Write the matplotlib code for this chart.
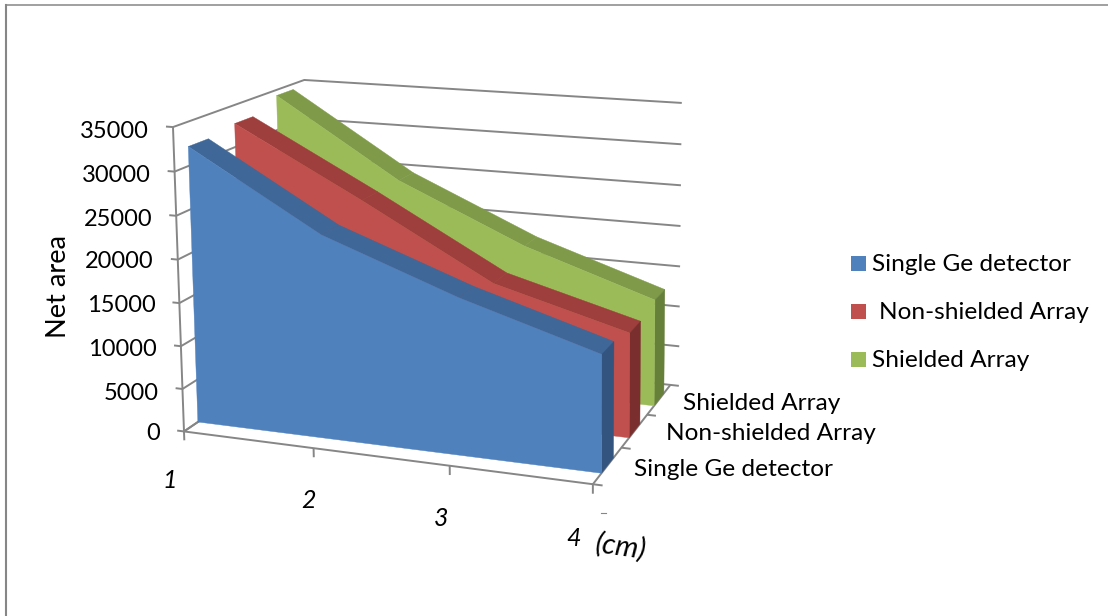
"""3D area chart of net area against distance for three detector setups."""
import matplotlib
matplotlib.use('Agg')
import matplotlib.pyplot as plt
import numpy as np

plt.rcParams['font.family'] = ['Lato', 'DejaVu Sans']

categories = ['1', '2', '3', '4']
series_names = ['Single Ge detector', 'Non-shielded Array', 'Shielded Array']
single_ge = [32200, 23400, 17800, 13150]
non_shielded = [32800, 24800, 16400, 12200]
shielded = [34300, 24800, 18000, 12900]
y_ticks = [0, 5000, 10000, 15000, 20000, 25000, 30000, 35000]

Y_MAX = 35000
COLORS = ['#4F81BD', '#C0504D', '#9BBB59']
TOPS = ['#3F6797', '#9E3F3D', '#7F9A48']
SIDES = ['#32547F', '#7A2F2E', '#66803A']
GRID = '#868686'
DEPTH_CENTER = [1/6, 1/2, 5/6]
DEPTH_HALF = 0.07


def fit_camera():
    # (u, v, w) box coords -> pixel anchors, solved as a projective camera
    anchors = [((0, 0, 0), (184, 432)), ((1/3, 0, 0), (313, 448)), ((2/3, 0, 0), (449, 466)),
               ((1, 0, 0), (593, 484)), ((1, 1/3, 0), (623, 446)), ((1, 2/3, 0), (648, 415)),
               ((1, 1, 0), (670, 385)), ((0, 0, 1), (173, 127)), ((0, 1, 1), (305, 79)),
               ((1, 1, 1), (673, 101))]
    for i, y in enumerate([388, 346, 303, 260, 216, 173]):
        anchors.append(((0, 0, (i + 1) / 7), (184 - 11 * (i + 1) / 7, y)))
    for i, y in enumerate([346, 306, 266, 226, 185, 144]):
        anchors.append(((1, 1, (i + 1) / 7), (670 + 3 * (i + 1) / 7, y)))
    rows, rhs = [], []
    for (u, v, w), (px, py) in anchors:
        rows.append([u, v, w, 1, 0, 0, 0, 0, -px * u, -px * v, -px * w])
        rows.append([0, 0, 0, 0, u, v, w, 1, -py * u, -py * v, -py * w])
        rhs += [px, py]
    sol = np.linalg.lstsq(np.array(rows, float), np.array(rhs, float), rcond=None)[0]
    return np.append(sol, 1).reshape(3, 4)


CAM = fit_camera()


def proj(u, v, w):
    p = CAM @ np.array([u, v, w, 1.0])
    return p[0] / p[2], p[1] / p[2]


def line3d(ax, pts, lw=1.4, color=GRID):
    xy = [proj(*p) for p in pts]
    ax.plot([p[0] for p in xy], [p[1] for p in xy], color=color, lw=lw,
            solid_capstyle='butt', zorder=1)


def face(ax, pts, color, z):
    ax.fill([proj(*p)[0] for p in pts], [proj(*p)[1] for p in pts],
            color=color, lw=0.3, zorder=z)


fig = plt.figure(figsize=(11.08, 6.16), dpi=100)
ax = fig.add_axes([0, 0, 1, 1])
ax.set_xlim(0, 1108)
ax.set_ylim(616, 0)
ax.axis('off')

# chart frame
ax.plot([6, 6], [616, 4.5], color='#868686', lw=1.5, zorder=0)
ax.plot([6, 1108], [4.5, 4.5], color='#868686', lw=1.1, zorder=0)

# walls
for t in y_ticks:
    w = t / Y_MAX
    line3d(ax, [(-0.018, 0, w), (0, 0, w), (0, 1, w), (1, 1, w), (1.022, 1, w)])
line3d(ax, [(0, 0, 0), (0, 0, 1)])

# floor
line3d(ax, [(0, 0, -0.03), (0, 0, 0), (0, 1, 0)])
line3d(ax, [(0, 0, 0), (1, 0, 0), (1.022, 0, 0)])
line3d(ax, [(1, 0, -0.03), (1, 0, 0), (1, 1, 0)])
for c in range(1, len(categories) - 1):
    line3d(ax, [(c / 3, 0, 0), (c / 3, 0, -0.03)])
for d in range(1, 3):
    line3d(ax, [(1, d / 3, 0), (1.022, d / 3, 0)])

# series, back to front
all_series = [single_ge, non_shielded, shielded]
us = np.linspace(0, 1, len(categories))
for i in [2, 1, 0]:
    vals = np.array(all_series[i]) / Y_MAX
    v0 = DEPTH_CENTER[i] - DEPTH_HALF
    v1 = DEPTH_CENTER[i] + DEPTH_HALF
    z = 10 * (3 - i)
    for k in range(len(us) - 1):
        face(ax, [(us[k], v0, vals[k]), (us[k + 1], v0, vals[k + 1]),
                  (us[k + 1], v1, vals[k + 1]), (us[k], v1, vals[k])], TOPS[i], z)
    face(ax, [(1, v0, 0), (1, v1, 0), (1, v1, vals[-1]), (1, v0, vals[-1])], SIDES[i], z + 1)
    front = [(0, v0, 0)] + [(u, v0, h) for u, h in zip(us, vals)] + [(1, v0, 0)]
    face(ax, front, COLORS[i], z + 2)

# value axis labels follow the slanted axis
for t, y in zip(y_ticks, [433, 393, 349, 305, 262, 219, 175, 131]):
    ax.text(160 - 11 * t / Y_MAX, y, str(t), ha='right', va='center', fontsize=17, color='black')
ax.text(58, 287, 'Net area', rotation=90, ha='center', va='center', fontsize=19.6)

# category labels
for lab, (x, y) in zip(categories, [(170, 480), (309, 501), (441, 519), (574, 539)]):
    ax.text(x, y, lab, ha='center', va='center', fontsize=18, style='italic')
ax.text(621, 547, '(cm)', ha='center', va='center', fontsize=21, style='italic', rotation=-8)
ax.plot([601, 606], [512.5, 512.5], color='#868686', lw=0.8)

# depth labels
for name, (x, y) in zip(series_names, [(634, 469), (666, 434), (683, 403)]):
    ax.text(x, y, name, ha='left', va='center', fontsize=17.6)

# legend
for name, col, y, x in zip(series_names, COLORS, [263.5, 311.5, 359.5], [872, 879, 872]):
    ax.fill([851, 866, 866, 851], [y - 7.5, y - 7.5, y + 7.5, y + 7.5], color=col, lw=0)
    ax.text(x, y + 1, name, ha='left', va='center', fontsize=17.6)

plt.savefig('out.png', dpi=100)
plt.close()
